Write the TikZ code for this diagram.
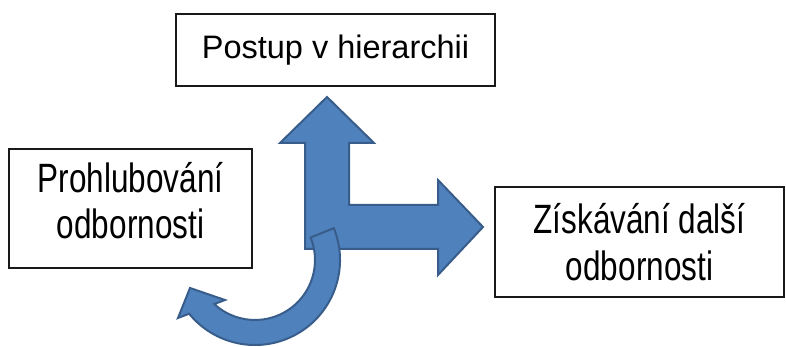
\documentclass[tikz,border=0pt]{standalone}
\usepackage{graphicx}
\usepackage{fontspec}
\setmainfont{Liberation Sans}
\usetikzlibrary{calc}
\definecolor{steel}{HTML}{4F81BD}
\definecolor{steeld}{HTML}{385D8A}
\newcommand\tall[1]{\scalebox{1}[1.3]{#1}}

\begin{document}
\begin{tikzpicture}[x=1pt,y=1pt,
      box/.style={draw=black!90,line width=1.6pt,fill=white,inner sep=0pt,align=center},
      lbl/.style={align=center,font=\fontsize{31.5}{46.5}\selectfont},
      blk/.style={fill=steel,draw=steeld,line width=2pt,line join=miter}]
    \useasboundingbox (0,0) rectangle (786,347);
    \node[box,minimum width=319pt,minimum height=72pt,font=\fontsize{32.5}{39}\selectfont]
      (hier) at (335.5,297) {Postup v hierarchii};
    \node[box,minimum width=243pt,minimum height=119pt](prohl) at (130.5,138.5){};
    \node[lbl] (prohlt) at ([yshift=8pt]prohl.center) {\tall{Prohlubování}\\\tall{odbornosti}};
    \node[box,minimum width=289pt,minimum height=110pt](zisk) at (639.5,105){};
    \node[lbl] (ziskt) at (zisk.center) {\tall{Získávání další}\\\tall{odbornosti}};
    % up and right heads from one corner
    \draw[blk] (327,250) -- (374,204) -- (349,204) -- (349,142) -- (438,142) -- (438,167)
      -- (483,120) -- (438,72) -- (438,98) -- (305,98) -- (305,204) -- (280,204) -- cycle;
    % bent arrow turning back to the left
    \coordinate (c) at (255,87);
    \draw[blk] ($(c)+(22:60)$) -- ($(c)+(22:85)$) arc[start angle=22,end angle=-140.8,radius=85]
      -- (178,29) -- (190,59) -- (225,47) -- ($(c)+(-132.7:60)$)
      arc[start angle=-132.7,end angle=22,radius=60] -- cycle;
  \end{tikzpicture}
\end{document}
